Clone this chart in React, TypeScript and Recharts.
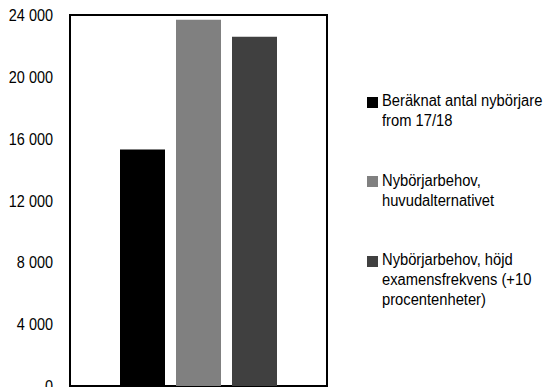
import React from "react";
import { BarChart, Bar, XAxis, YAxis, ReferenceArea } from "recharts";

const categories = [""];
const seriesKeys = ["nyborjare", "huvud", "hojd"];
const seriesNames = [
  "Beräknat antal nybörjare from 17/18",
  "Nybörjarbehov, huvudalternativet",
  "Nybörjarbehov, höjd examensfrekvens (+10 procentenheter)",
];
const legendLines = [
  ["Beräknat antal nybörjare", "from 17/18"],
  ["Nybörjarbehov,", "huvudalternativet"],
  ["Nybörjarbehov, höjd", "examensfrekvens (+10", "procentenheter)"],
];
const seriesColors = ["#000000", "#808080", "#404040"];
const nyborjareValues = [15300];
const huvudValues = [23700];
const hojdValues = [22600];
const yTicks = [0, 4000, 8000, 12000, 16000, 20000, 24000];

const data = categories.map((c, i) => ({
  name: c,
  nyborjare: nyborjareValues[i],
  huvud: huvudValues[i],
  hojd: hojdValues[i],
}));

const FONT = "'Liberation Sans', Arial, sans-serif";

const fmt = (v: number) => String(v).replace(/\B(?=(\d{3})+(?!\d))/g, " ");

const renderYTick = (props: any) => {
  const { x, y, payload } = props;
  return (
    <g key={`t-${payload.value}`} transform={`translate(${x},${y}) scale(0.85,1)`}>
      <text x={0} y={0} dy="0.355em" textAnchor="end" fontSize={17} fill="#000" fontFamily={FONT}>
        {fmt(payload.value)}
      </text>
    </g>
  );
};

export default function App() {
  return (
    <div style={{ position: "fixed", left: 0, top: 0, width: 543, height: 387, background: "#fff", fontFamily: FONT }}>
      <BarChart
        width={543}
        height={387}
        data={data}
        margin={{ top: 15, right: 216, bottom: 1, left: 0 }}
        barCategoryGap={50}
        barGap={11}
      >
        <XAxis dataKey="name" height={0} tick={false} tickLine={false} axisLine={{ stroke: "#000", strokeWidth: 2 }} />
        <YAxis
          width={70}
          domain={[0, 24000]}
          ticks={yTicks}
          interval={0}
          tickLine={false}
          tickSize={6}
          tickMargin={11}
          axisLine={{ stroke: "#000", strokeWidth: 2 }}
          tick={renderYTick}
        />
        <ReferenceArea y1={0} y2={24000} fill="none" stroke="#000" strokeWidth={2} ifOverflow="visible" />
        {seriesKeys.map((k, i) => (
          <Bar key={k} dataKey={k} name={seriesNames[i]} fill={seriesColors[i]} isAnimationActive={false} />
        ))}
      </BarChart>
      {legendLines.map((lines, i) => (
        <div key={i} style={{ position: "absolute", left: 367, top: 91 + 79.5 * i, fontSize: 16, lineHeight: "20px", color: "#000" }}>
          <div style={{ position: "absolute", left: 0, top: 5.5, width: 11, height: 11, background: seriesColors[i] }} />
          <div
            style={{
              position: "absolute",
              left: 15,
              top: 0,
              whiteSpace: "nowrap",
              transform: "scaleX(0.92)",
              transformOrigin: "left top",
            }}
          >
            {lines.map((l, j) => (
              <div key={j}>{l}</div>
            ))}
          </div>
        </div>
      ))}
    </div>
  );
}
